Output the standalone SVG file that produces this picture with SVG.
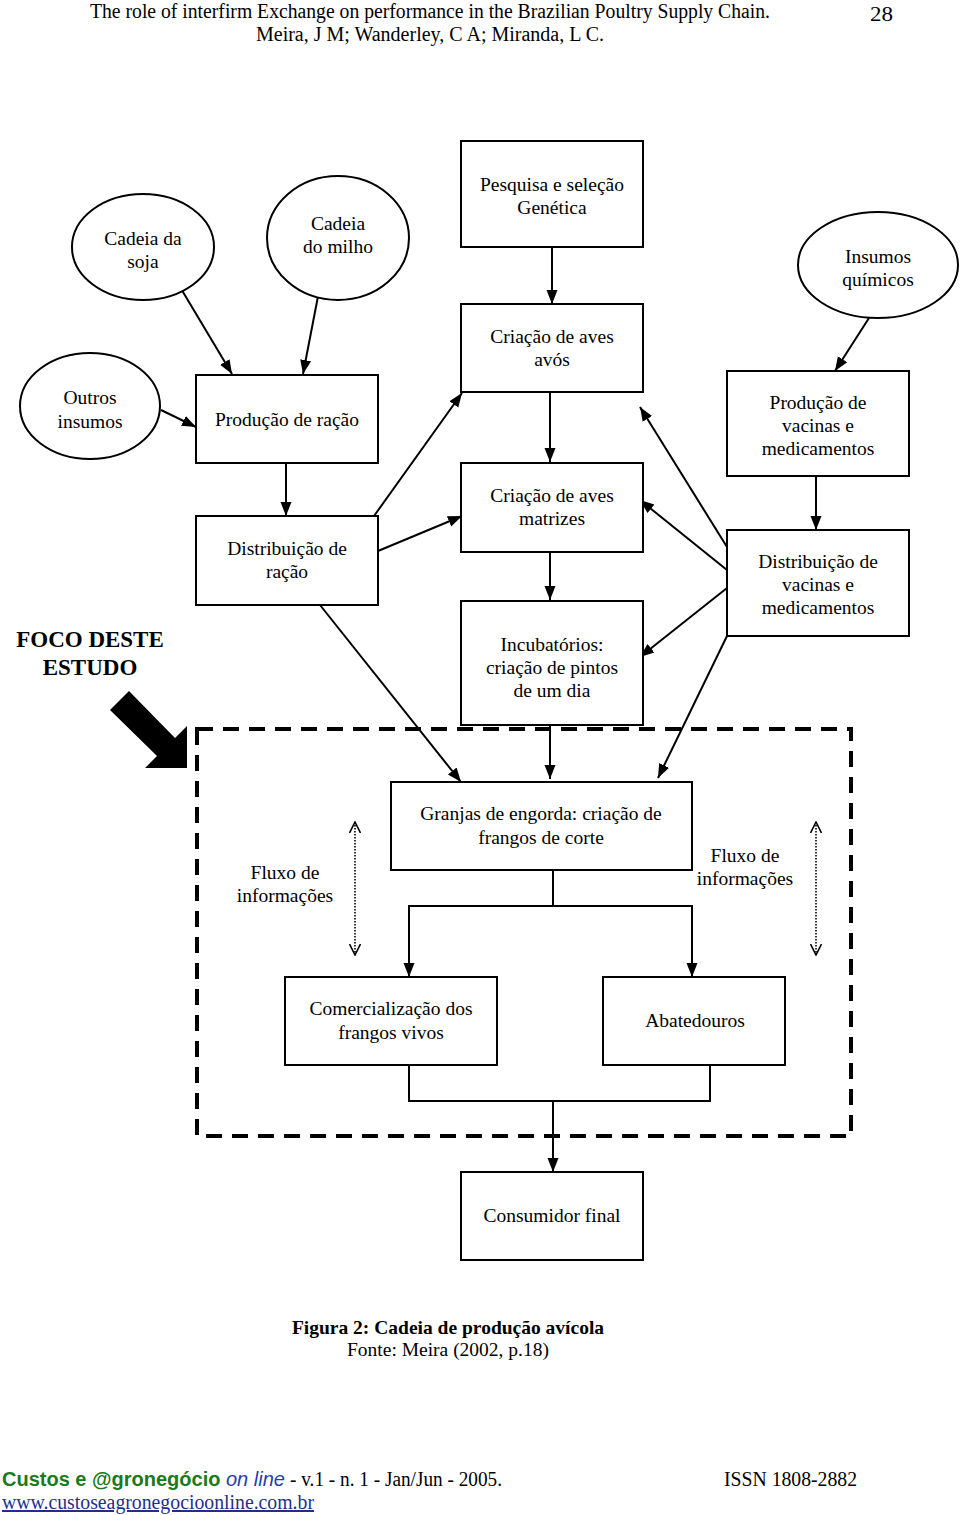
<svg xmlns="http://www.w3.org/2000/svg" width="960" height="1515" viewBox="0 0 960 1515">
<defs>
<marker id="ah" markerWidth="14" markerHeight="14" viewBox="0 0 14 14" refX="14" refY="7" orient="auto" markerUnits="userSpaceOnUse">
<path d="M0,1.5 L14,7 L0,12.5 Z" fill="#000"/>
</marker>
<marker id="oa" markerWidth="12" markerHeight="12" viewBox="0 0 12 12" refX="11" refY="6" orient="auto-start-reverse" markerUnits="userSpaceOnUse">
<path d="M0,0.5 L11,6 L0,11.5" fill="none" stroke="#000" stroke-width="1.6"/>
</marker>
</defs>
<style>
.n{fill:#fff;stroke:#000;stroke-width:2}
.t{font-family:"Liberation Serif","Times New Roman",serif;font-size:19.5px;fill:#000;text-anchor:middle}
.c{fill:none;stroke:#000;stroke-width:2}
.a{marker-end:url(#ah)}
.h{font-family:"Liberation Serif","Times New Roman",serif;font-size:20px;fill:#000}
</style>
<rect width="960" height="1515" fill="#fff"/>

<g id="header">
<text class="h" x="90" y="18" textLength="680" lengthAdjust="spacingAndGlyphs">The role of interfirm Exchange on performance in the Brazilian Poultry Supply Chain.</text>
<text class="h" x="256" y="41" textLength="348" lengthAdjust="spacingAndGlyphs">Meira, J M; Wanderley, C A; Miranda, L C.</text>
<text class="h" x="870" y="21" textLength="23" lengthAdjust="spacingAndGlyphs">28</text>
</g>

<g id="focus">
<rect x="197" y="729" width="654" height="407" fill="none" stroke="#000" stroke-width="4" stroke-dasharray="16,10"/>
<text x="90" y="647" font-family="Liberation Serif,serif" font-size="23" font-weight="bold" text-anchor="middle">FOCO DESTE</text>
<text x="90" y="675" font-family="Liberation Serif,serif" font-size="23" font-weight="bold" text-anchor="middle">ESTUDO</text>
<polygon points="110,710 129,691 175,738 187,726 187,768 145,768 157,756" fill="#000"/>
</g>

<g id="connectors">
<line class="c a" x1="180" y1="287" x2="232" y2="374"/>
<line class="c a" x1="320" y1="286" x2="303" y2="374"/>
<line class="c a" x1="161" y1="410" x2="196" y2="427"/>
<line class="c a" x1="552" y1="247" x2="552" y2="304"/>
<line class="c a" x1="550" y1="392" x2="550" y2="462"/>
<line class="c a" x1="550" y1="552" x2="550" y2="600"/>
<line class="c a" x1="550" y1="725" x2="550" y2="779"/>
<line class="c a" x1="286" y1="460" x2="286" y2="516"/>
<line class="c a" x1="374" y1="516" x2="462" y2="393"/>
<line class="c a" x1="378" y1="551" x2="462" y2="516"/>
<line class="c a" x1="320" y1="605" x2="461" y2="782"/>
<line class="c a" x1="869" y1="318" x2="835" y2="371"/>
<line class="c a" x1="816" y1="476" x2="816" y2="530"/>
<line class="c a" x1="727" y1="547" x2="640" y2="407"/>
<line class="c a" x1="727" y1="570" x2="640" y2="500"/>
<line class="c a" x1="727" y1="588" x2="640" y2="657"/>
<line class="c a" x1="727" y1="636" x2="658" y2="778"/>
<polyline class="c" points="553,870 553,906"/>
<polyline class="c a" points="553,906 409,906 409,977"/>
<polyline class="c a" points="553,906 692,906 692,977"/>
<polyline class="c" points="409,1065 409,1101 710,1101 710,1065"/>
<line class="c a" x1="553" y1="1101" x2="553" y2="1172"/>
<line x1="355" y1="822" x2="355" y2="955" stroke="#000" stroke-width="1.6" stroke-dasharray="1.5,1.5" marker-start="url(#oa)" marker-end="url(#oa)"/>
<line x1="816" y1="822" x2="816" y2="955" stroke="#000" stroke-width="1.6" stroke-dasharray="1.5,1.5" marker-start="url(#oa)" marker-end="url(#oa)"/>
</g>

<g id="soja"><ellipse class="n" cx="143" cy="247" rx="71" ry="53"/><text class="t" x="143" y="245">Cadeia da</text><text class="t" x="143" y="268">soja</text></g>
<g id="milho"><ellipse class="n" cx="338" cy="238" rx="71" ry="62"/><text class="t" x="338" y="230">Cadeia</text><text class="t" x="338" y="253">do milho</text></g>
<g id="pesquisa"><rect class="n" x="461" y="141" width="182" height="106"/><text class="t" x="552" y="191">Pesquisa e seleção</text><text class="t" x="552" y="214">Genética</text></g>
<g id="quimicos"><ellipse class="n" cx="878" cy="265" rx="80" ry="53"/><text class="t" x="878" y="263">Insumos</text><text class="t" x="878" y="286">químicos</text></g>
<g id="outros"><ellipse class="n" cx="90" cy="406" rx="70" ry="53"/><text class="t" x="90" y="404">Outros</text><text class="t" x="90" y="428">insumos</text></g>
<g id="racao"><rect class="n" x="196" y="375" width="182" height="88"/><text class="t" x="287" y="426">Produção de ração</text></g>
<g id="avos"><rect class="n" x="461" y="304" width="182" height="88"/><text class="t" x="552" y="343">Criação de aves</text><text class="t" x="552" y="366">avós</text></g>
<g id="vacinas"><rect class="n" x="727" y="371" width="182" height="105"/><text class="t" x="818" y="409">Produção de</text><text class="t" x="818" y="432">vacinas e</text><text class="t" x="818" y="455">medicamentos</text></g>
<g id="distracao"><rect class="n" x="196" y="516" width="182" height="89"/><text class="t" x="287" y="555">Distribuição de</text><text class="t" x="287" y="578">ração</text></g>
<g id="matrizes"><rect class="n" x="461" y="463" width="182" height="89"/><text class="t" x="552" y="502">Criação de aves</text><text class="t" x="552" y="525">matrizes</text></g>
<g id="distvacinas"><rect class="n" x="727" y="530" width="182" height="106"/><text class="t" x="818" y="568">Distribuição de</text><text class="t" x="818" y="591">vacinas e</text><text class="t" x="818" y="614">medicamentos</text></g>
<g id="incubatorios"><rect class="n" x="461" y="601" width="182" height="124"/><text class="t" x="552" y="651">Incubatórios:</text><text class="t" x="552" y="674">criação de pintos</text><text class="t" x="552" y="697">de um dia</text></g>
<g id="granjas"><rect class="n" x="391" y="782" width="301" height="88"/><text class="t" x="541" y="820">Granjas de engorda: criação de</text><text class="t" x="541" y="844">frangos de corte</text></g>
<g id="comercializacao"><rect class="n" x="285" y="977" width="212" height="88"/><text class="t" x="391" y="1015">Comercialização dos</text><text class="t" x="391" y="1039">frangos vivos</text></g>
<g id="abatedouros"><rect class="n" x="603" y="977" width="182" height="88"/><text class="t" x="695" y="1027">Abatedouros</text></g>
<g id="consumidor"><rect class="n" x="461" y="1172" width="182" height="88"/><text class="t" x="552" y="1222">Consumidor final</text></g>

<g id="labels">
<text class="t" x="285" y="879">Fluxo de</text><text class="t" x="285" y="902">informações</text>
<text class="t" x="745" y="862">Fluxo de</text><text class="t" x="745" y="885">informações</text>
</g>

<g id="caption">
<text class="t" x="448" y="1334" font-weight="bold">Figura 2: Cadeia de produção avícola</text>
<text class="t" x="448" y="1356">Fonte: Meira (2002, p.18)</text>
</g>

<g id="footer">
<text y="1486" font-size="20"><tspan x="2" font-family="Liberation Sans,Arial,sans-serif" font-weight="bold" fill="#1b7a1b">Custos e @gronegócio</tspan><tspan font-family="Liberation Sans,Arial,sans-serif" font-style="italic" fill="#1f3fa8"> on line</tspan></text>
<text x="290" y="1486" font-family="Liberation Serif,serif" font-size="20" textLength="212" lengthAdjust="spacingAndGlyphs">- v.1 - n. 1 - Jan/Jun - 2005.</text>
<text x="724" y="1486" font-family="Liberation Serif,serif" font-size="20" textLength="133" lengthAdjust="spacingAndGlyphs">ISSN 1808-2882</text>
<text x="2" y="1509" font-family="Liberation Serif,serif" font-size="20" fill="#1f2f8f" text-decoration="underline" textLength="312" lengthAdjust="spacingAndGlyphs">www.custoseagronegocioonline.com.br</text>
</g>
</svg>
